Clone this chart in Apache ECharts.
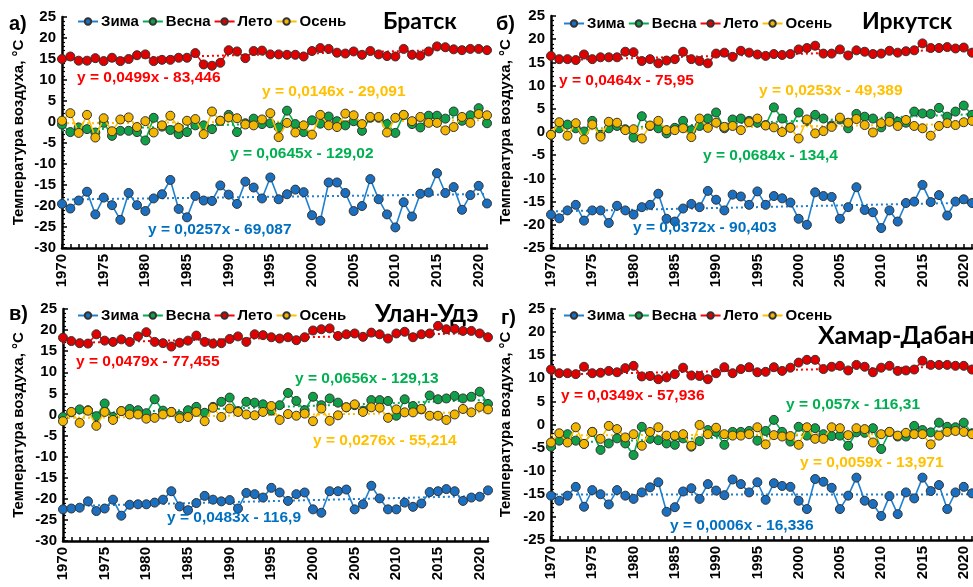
<!DOCTYPE html>
<html><head><meta charset="utf-8">
<script src="https://cdn.jsdelivr.net/npm/echarts@6/dist/echarts.min.js"></script>
<style>html,body{margin:0;padding:0;background:#fff}#c{width:973px;height:587px}</style>
</head><body><div id="c"></div>
<script>
// ---------- categories ----------
const years = [];
for (let y = 1970; y <= 2021; y++) years.push(String(y));
const seasons = ['Зима', 'Весна', 'Лето', 'Осень'];
const stations = ['Братск', 'Иркутск', 'Улан-Удэ', 'Хамар-Дабан'];
const panelLetters = ['а)', 'б)', 'в)', 'г)'];
const yMin = [-30, -25, -30, -25];
const yMax = [25, 25, 25, 25];

// ---------- Братск ----------
const bratskWinter = [-19.5,-20.6,-18.7,-16.6,-22,-18,-19.8,-23.3,-16.9,-19.8,-21.2,-18.2,-17.2,-13.8,-20.7,-22.7,-17.6,-18.7,-18.8,-15.1,-17.3,-19.5,-14.2,-15.6,-18.2,-13.2,-18.4,-17.2,-16.1,-16.7,-22.2,-23.5,-14.4,-14.4,-16.9,-21.2,-20,-13.6,-18.4,-22,-25.1,-19.1,-22.5,-17.1,-16.8,-12.2,-16.9,-15.5,-20.9,-17.4,-15.2,-19.4];
const bratskSpring = [-0.6,-2.4,-1.3,-1.7,-2.5,-0.2,-3.3,-2.1,-2.1,-2.4,-4.4,1.0,-1.1,-1.9,-2.9,-2.4,-0.8,-0.8,-1.7,0.3,1.7,-2.4,-0.3,0.8,-0.5,-0.3,-1.3,2.7,-0.5,-2.4,0.4,-0.4,1.3,0.2,-0.8,0.2,-2.1,1.0,1.0,-0.5,-2.6,1.7,-0.5,-1.3,1.5,1.5,0.8,2.5,0.3,1.6,3.3,-0.3];
const bratskSummer = [15.0,15.6,14.6,14.6,15.2,14.5,15.3,14.5,15.0,15.9,16.1,14.5,14.8,14.8,15.3,15.3,16.4,13.7,13.4,14.1,17.1,16.8,15.2,16.9,17.0,16.1,16.1,16.0,16.0,15.6,16.9,17.6,17.4,16.5,16.3,16.8,16.0,16.9,16.1,15.7,15.6,17.4,16.0,15.8,16.8,18.0,17.8,17.3,17.1,17.4,17.4,17.1];
const bratskAutumn = [0.3,2.1,-2.6,1.7,-3.7,0.9,-2.2,0.6,1.1,-1.2,0.2,-2.5,-0.8,1.5,-1.4,0.3,0.7,-2.9,2.5,0.3,1.1,0.9,-0.6,-0.8,0.6,2.1,-3.6,-0.2,-2.5,-0.8,-3.0,1.7,-0.8,-1.2,2.0,1.6,-0.5,1.2,1.2,-2.5,1.0,1.7,0.2,1.2,-0.2,-0.2,-2.0,-1.2,1.2,-0.2,1.9,1.6];
const bratskSlopes = [0.0257, 0.0645, 0.0499, 0.0146];
const bratskIntercepts = [-69.087, -129.02, -83.446, -29.091];

// ---------- Иркутск ----------
const irkutskWinter = [-17.8,-18.6,-16.9,-15.7,-19.1,-16.9,-16.9,-19.6,-15.9,-16.9,-17.8,-16.2,-15.7,-13.3,-18.7,-19.3,-16.5,-15.5,-16.2,-12.7,-14.6,-16.9,-13.5,-13.9,-15.7,-12.8,-15.7,-13.8,-14.3,-15.2,-18.7,-20.0,-13.0,-13.8,-14.0,-18.7,-16.2,-11.9,-16.8,-17.3,-20.7,-16.9,-19.3,-15.3,-15.0,-11.4,-15.1,-13.6,-18.0,-15.0,-14.5,-15.3];
const irkutskSpring = [-0.6,0.8,1.6,0.8,0.1,2.4,-0.6,0.8,1.3,0.6,-1.2,3.4,1.3,0.8,-0.3,0.9,2.4,0.4,1.3,2.9,4.2,0.8,2.7,2.9,2.4,2.0,1.5,5.3,2.9,1.0,4.2,2.4,3.7,2.9,1.4,2.7,0.8,3.9,3.3,2.9,1.0,3.3,2.2,2.0,4.4,4.0,3.9,5.2,3.3,4.4,5.7,3.7];
const irkutskSummer = [16.4,15.7,15.7,15.5,16.7,15.7,16.1,16.1,16.1,17.3,17.2,15.3,15.7,14.8,15.4,15.7,17.3,15.7,15.3,14.8,16.9,17.1,16.2,17.5,17.1,16.7,16.4,16.8,16.6,16.8,17.8,18.1,18.6,16.9,16.9,17.8,16.5,17.6,17.3,16.8,16.9,17.5,17.1,17.4,17.6,19.1,18.1,18.1,18.3,18.0,18.2,17.1];
const irkutskAutumn = [-0.6,2.1,-0.8,1.9,-1.6,1.6,-1.0,2.2,2.0,0.4,0.6,-1.4,1.4,2.4,0.4,0.4,0.8,-1.1,2.9,0.9,2.0,1.1,1.3,0.4,2.1,2.9,1.4,1.0,0,0.9,-1.4,2.7,-0.3,0.2,1.1,3.1,2.0,2.8,1.5,-0.1,1.9,2.2,1.3,2.6,1.3,0.8,-0.8,1.3,1.9,1.5,2.1,2.4];
const irkutskSlopes = [0.0372, 0.0684, 0.0464, 0.0253];
const irkutskIntercepts = [-90.403, -134.4, -75.95, -49.389];

// ---------- Улан-Удэ ----------
const ulanudeWinter = [-22.5,-22.3,-22.1,-20.6,-22.9,-22.3,-20.2,-24.0,-21.4,-21.3,-21.3,-20.9,-20.2,-18.2,-21.8,-22.7,-21.0,-19.3,-20.2,-20.6,-20.3,-22.3,-18.6,-18.9,-19.7,-17.4,-18.5,-20.5,-18.9,-18.5,-22.5,-23.3,-18.2,-18.2,-17.8,-22.5,-21.3,-16.9,-19.9,-22.5,-22.5,-20.9,-21.9,-21.1,-18.4,-18.2,-17.7,-18.2,-20.5,-19.7,-19.5,-18.0];
const ulanudeSpring = [-0.6,0.5,1.2,1.0,-0.4,2.6,-0.6,0.8,1.3,1.0,0.3,3.6,0.9,0.6,-0.3,1.0,1.8,0.4,1.8,3.0,4.0,0.8,3.0,2.8,2.4,0.9,2.2,5.1,3.2,1.0,4.2,2.2,3.8,2.8,1.7,2.2,0.9,3.4,3.4,3.2,-0.3,3.6,2.0,1.2,4.5,3.6,3.8,4.4,3.8,4.2,5.4,2.5];
const ulanudeSummer = [18.2,17.4,16.9,16.8,19.0,17.5,17.2,17.8,17.2,18.5,19.5,17.2,16.9,16.1,17.0,17.5,18.7,17.2,16.8,16.9,17.9,18.5,17.2,19.0,18.8,18.3,18.0,18.3,17.6,18.3,19.9,20.2,20.4,18.6,19.0,19.2,18.4,19.4,19.0,18.0,19.2,19.6,18.3,19.0,19.2,21.0,20.2,20.3,19.8,19.8,19.2,18.3];
const ulanudeAutumn = [-1.6,0.6,-2.0,0.9,-2.7,0.6,-1.3,0.8,0,0,-1.0,-0.8,0,0.6,-0.9,-0.6,0.6,-1.6,1.6,-0.6,1.4,0.6,0,-0.2,0.6,2.0,-1.3,0.1,-0.3,0.2,-1.6,1.4,-1.5,-0.2,1.7,2.4,0.6,1.7,1.6,-0.8,1.2,0.5,0.5,1.3,-0.3,-0.3,-1.3,0,1.3,0.5,1.8,1.2];
const ulanudeSlopes = [0.0483, 0.0656, 0.0479, 0.0276];
const ulanudeIntercepts = [-116.9, -129.13, -77.455, -55.214];

// ---------- Хамар-Дабан ----------
const khamarWinter = [-15.4,-16.5,-15.4,-13.5,-17.8,-14.2,-15.1,-17.3,-14.2,-15.4,-16.1,-14.7,-13.6,-12.5,-18.9,-17.9,-14.5,-13.8,-16.1,-12.9,-14.3,-15.3,-11.9,-12.9,-14.7,-12.5,-16.3,-12.7,-13.3,-13.5,-16.5,-18.3,-11.8,-12.4,-13.7,-18.3,-15.4,-11.5,-16.5,-17.2,-19.8,-15.5,-19.4,-14.7,-16.0,-11.5,-14.4,-13.1,-18.3,-14.7,-13.5,-14.9];
const khamarSpring = [-4.8,-3.5,-2.1,-3.5,-4.2,-1.6,-5.5,-4.1,-3.0,-4.1,-6.6,-0.5,-3.1,-3.4,-4.1,-4.4,-3.0,-4.8,-3.6,-1.2,-1.6,-4.4,-1.6,-1.6,-1.4,-3.5,-1.4,1.0,-1.6,-3.7,-0.5,-2.4,-0.8,-2.1,-2.5,-2.4,-4.6,-1.7,-1.8,-0.8,-5.3,-1.6,-2.6,-2.6,-0.3,-1.2,-1.7,0.4,-0.5,-0.6,0.4,-1.9];
const khamarSummer = [11.9,11.1,11.1,10.9,12.5,11.1,11.2,11.6,11.3,12.2,12.7,10.4,10.5,9.8,10.2,10.9,12.3,10.6,10.5,9.8,11.1,12.4,11.1,12.0,12.4,11.3,11.4,12.4,11.6,12.3,13.4,14.0,14.0,12.0,12.5,12.7,11.7,12.9,12.5,11.3,12.3,12.7,11.6,11.7,11.9,13.8,12.9,12.9,12.9,12.7,12.7,11.9];
const khamarAutumn = [-3.9,-1.9,-3.9,-0.6,-4.2,-1.6,-3.1,-0.3,-1.0,-2.8,-2.1,-4.6,-1.6,-0.6,-2.4,-2.4,-2.1,-4.6,-0.1,-2.1,-0.7,-2.1,-2.4,-2.4,-2.1,-0.6,-4.3,-2.3,-2.6,-2.5,-4.4,-0.6,-3.1,-3.1,-0.6,-0.8,-2.3,-0.8,-1.0,-3.9,-2.1,-1.6,-2.4,-1.8,-2.1,-2.1,-4.3,-2.4,-1.6,-1.4,-1.6,-2.1];
const khamarSlopes = [0.0006, 0.057, 0.0349, 0.0059];
const khamarIntercepts = [-16.336, -116.31, -57.936, -13.971];

// ---------- assembly ----------
const stationData = [
  [bratskWinter, bratskSpring, bratskSummer, bratskAutumn],
  [irkutskWinter, irkutskSpring, irkutskSummer, irkutskAutumn],
  [ulanudeWinter, ulanudeSpring, ulanudeSummer, ulanudeAutumn],
  [khamarWinter, khamarSpring, khamarSummer, khamarAutumn]
];
const stationSlopes = [bratskSlopes, irkutskSlopes, ulanudeSlopes, khamarSlopes];
const stationIntercepts = [bratskIntercepts, irkutskIntercepts, ulanudeIntercepts, khamarIntercepts];

// ---------- styling / layout ----------
const FONT = '"Liberation Sans", Arial, sans-serif';
const lineColors = ['#1F80D0', '#00B050', '#FF0000', '#FFC000'];
const markerColors = ['#1A6FC0', '#0FA048', '#E00000', '#F2B600'];
const eqColors = ['#0070C0', '#00B050', '#FF0000', '#FFC000'];
const grids = [
  {left: 62, top: 17, width: 425, height: 231},
  {left: 551, top: 16, width: 421, height: 232},
  {left: 63, top: 309, width: 425, height: 232},
  {left: 551, top: 309, width: 421, height: 231}
];
const nameGaps = [36, 38, 37, 38];
const legendPos = [[77, 23], [563, 25], [77, 317], [563, 317]];
const titlePos = [[383, 22, 23], [862, 22, 23], [375, 314, 25], [818, 336, 25]];
const letterPos = [[9, 24], [496, 24], [9, 314], [501, 318]];
const eqPos = [
  [[148, 230], [230, 154], [77, 78], [262, 92]],
  [[633, 228], [703, 156], [559, 81], [759, 91]],
  [[167, 518], [295, 379], [76, 362], [313, 441]],
  [[670, 526], [786, 405], [561, 396], [800, 463]]
];

function fmt(v) { return String(v).replace('.', ','); }

const xAxis = [], yAxis = [], series = [], legend = [], graphic = [];
for (let p = 0; p < 4; p++) {
  xAxis.push({
    gridIndex: p, type: 'category', data: years, boundaryGap: false,
    axisLine: {onZero: false, lineStyle: {color: '#000', width: 2.5}},
    axisTick: {show: true, interval: 0, inside: true, length: 4, lineStyle: {color: '#000', width: 1.5}},
    axisLabel: {interval: 4, rotate: 90, color: '#000', fontSize: 15, fontWeight: 'bold', fontFamily: FONT, margin: 6},
    splitLine: {show: false}
  });
  yAxis.push({
    gridIndex: p, type: 'value', min: yMin[p], max: yMax[p], interval: 5,
    axisLine: {show: true, onZero: false, lineStyle: {color: '#000', width: 2.5}},
    axisTick: {show: true, inside: true, length: 5, lineStyle: {color: '#000', width: 1.5}},
    minorTick: {show: true, splitNumber: 5, length: 3, lineStyle: {color: '#000', width: 1.2}},
    axisLabel: {color: '#000', fontSize: 15, fontWeight: 'bold', fontFamily: FONT, margin: 6},
    splitLine: {show: false},
    name: 'Температура воздуха, °С', nameLocation: 'middle', nameGap: nameGaps[p],
    nameTextStyle: {color: '#000', fontSize: 15, fontWeight: 'bold', fontFamily: FONT}
  });
  for (let s = 0; s < 4; s++) {
    const slope = stationSlopes[p][s], icpt = stationIntercepts[p][s];
    series.push({
      name: seasons[s] + ' тренд', type: 'line', xAxisIndex: p, yAxisIndex: p,
      data: [[years[0], slope * Number(years[0]) + icpt], [years[years.length - 1], slope * Number(years[years.length - 1]) + icpt]],
      symbol: 'none', silent: true, z: 1,
      lineStyle: {color: lineColors[s], width: 2, type: [2, 3]}
    });
  }
  for (let s = 0; s < 4; s++) {
    series.push({
      name: seasons[s], type: 'line', xAxisIndex: p, yAxisIndex: p,
      data: stationData[p][s], symbol: 'circle', symbolSize: 9, showAllSymbol: true, z: 3 + s,
      lineStyle: {color: lineColors[s], width: 1.6},
      itemStyle: {color: markerColors[s], borderColor: '#333', borderWidth: 1}
    });
  }
  legend.push({
    data: seasons, left: legendPos[p][0], top: legendPos[p][1] - 9, padding: 0,
    itemWidth: 20, itemHeight: 8, itemGap: 3,
    textStyle: {color: '#000', fontSize: 15, fontWeight: 'bold', fontFamily: FONT, padding: [0, 0, 0, -2]}
  });
  graphic.push({
    type: 'text', x: titlePos[p][0], y: titlePos[p][1], z: 100,
    style: {text: stations[p], fill: '#000', font: 'bold ' + titlePos[p][2] + 'px Lato, "Open Sans", sans-serif', verticalAlign: 'middle', textVerticalAlign: 'middle'}
  });
  graphic.push({
    type: 'text', x: letterPos[p][0], y: letterPos[p][1], z: 100,
    style: {text: panelLetters[p], fill: '#000', font: 'bold 20px ' + FONT, verticalAlign: 'middle', textVerticalAlign: 'middle'}
  });
  for (let s = 0; s < 4; s++) {
    const txt = 'y = ' + fmt(stationSlopes[p][s]) + 'x - ' + fmt(-stationIntercepts[p][s]);
    graphic.push({
      type: 'text', x: eqPos[p][s][0], y: eqPos[p][s][1], z: 100,
      style: {text: txt, fill: eqColors[s], font: 'bold 15.5px ' + FONT, verticalAlign: 'middle', textVerticalAlign: 'middle'}
    });
  }
}

const chart = echarts.init(document.getElementById('c'), null, {renderer: 'canvas'});
chart.setOption({
  animation: false,
  backgroundColor: '#fff',
  grid: grids,
  xAxis: xAxis,
  yAxis: yAxis,
  legend: legend,
  series: series,
  graphic: graphic
});
</script>
</body></html>
